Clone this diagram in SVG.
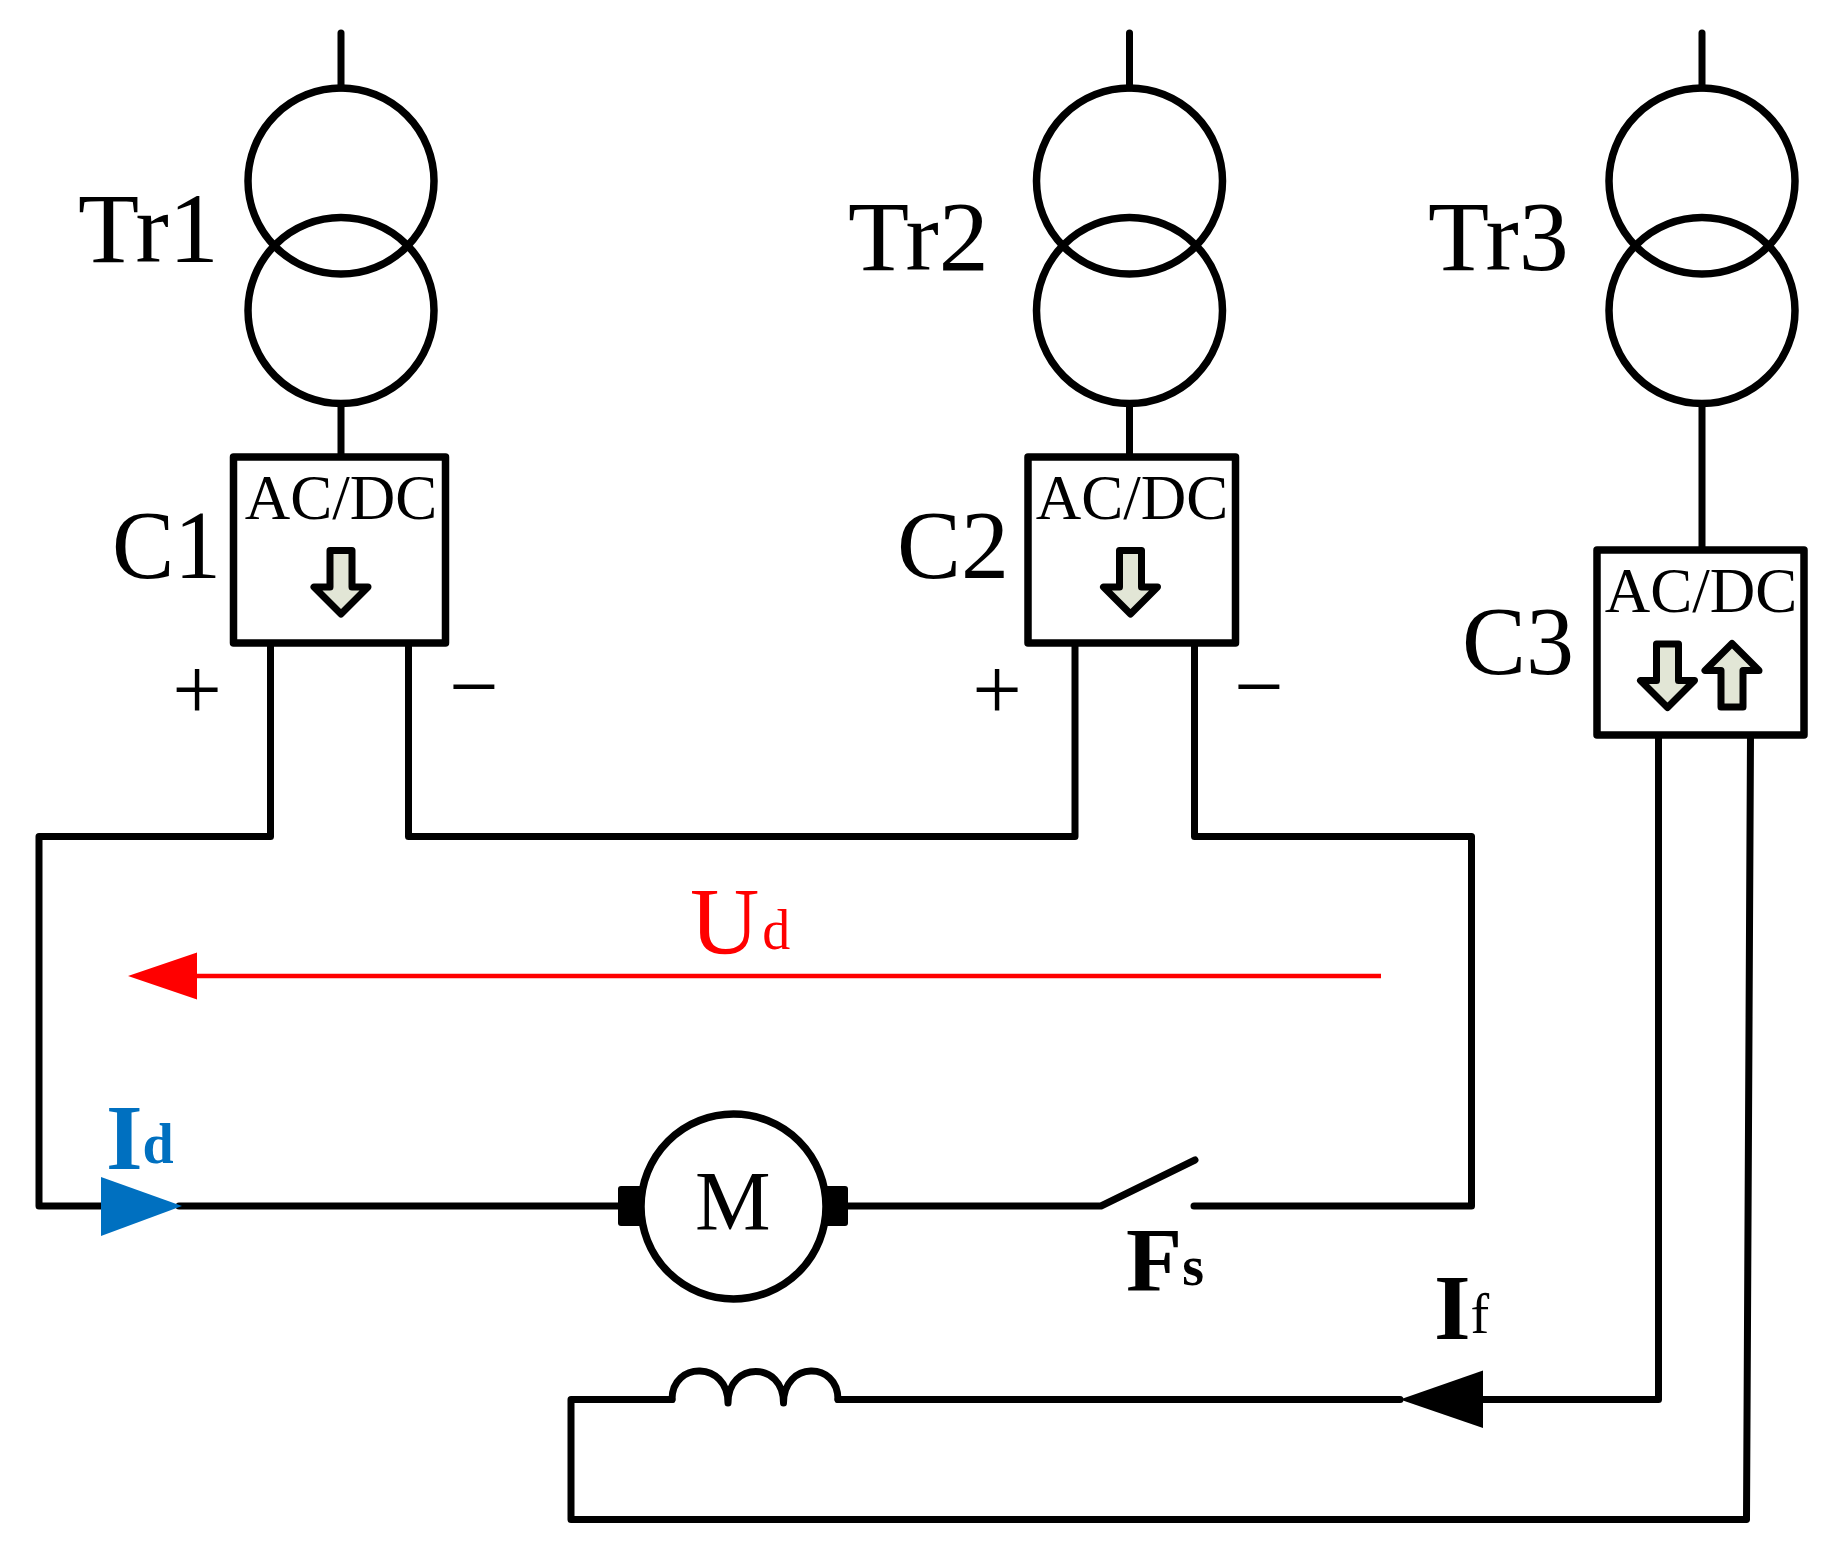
<svg xmlns="http://www.w3.org/2000/svg" width="1833" height="1553" viewBox="0 0 1833 1553">
<defs>
<style>
.w{fill:none;stroke:#000;stroke-width:7;stroke-linecap:round;stroke-linejoin:round}
.c{fill:#fff;stroke:#000;stroke-width:7.500}
.o{fill:none;stroke:#000;stroke-width:7.500}
.b{fill:#fff;stroke:#000;stroke-width:7.500;stroke-linejoin:round}
.a{fill:#E2E6D6;stroke:#000;stroke-width:7;stroke-linejoin:round}
text{font-family:"Liberation Serif","Times New Roman",serif;fill:#000}
.tr{font-size:100px}
.cn{font-size:98px}
.conv{font-size:63px;text-anchor:middle}
.sign{font-size:88px;text-anchor:middle}
.sub{font-size:56px}
</style>
<path id="down" d="M-11 0H11V36.500H27L0 63.500L-27 36.500H-11Z"/>
<g id="tr"><line class="w" x1="0" y1="33" x2="0" y2="88"/><circle class="o" cx="0" cy="181" r="93"/><circle class="o" cx="0" cy="310.500" r="93"/></g>
</defs>
<rect width="1833" height="1553" fill="#fff"/>
<g id="connectors">
<path class="w" d="M341 404V457"/>
<path class="w" d="M1129.500 404V457"/>
<path class="w" d="M1702 404V550"/>
<path class="w" d="M270.500 643V836.500H39V1206H101"/>
<path class="w" d="M408.500 643V836.500H1075V643"/>
<path class="w" d="M1194.500 643V836.500H1471.500V1206H1194"/>
<path class="w" d="M179 1206H618"/>
<path class="w" d="M847 1206H1101L1195 1160"/>
<path class="w" d="M1658.500 735V1399.500H1483"/>
<path class="w" d="M1400 1399.500H838"/>
<path class="w" d="M672 1399.500H571V1519.500H1746.500L1750.500 735"/>
<path id="ud-line" d="M197 976H1381" fill="none" stroke="#FF0000" stroke-width="4.500"/>
<polygon id="ud-head" points="128,976 197,952.500 197,999.500" fill="#FF0000"/>
<polygon id="id-head" points="101,1177 182,1206 101,1236" fill="#0070C0"/>
<polygon id="if-head" points="1400,1399.500 1483,1370.500 1483,1428" fill="#000"/>
</g>
<g id="Tr1"><use href="#tr" x="341"/><text class="tr" x="78" y="262">Tr1</text></g>
<g id="Tr2"><use href="#tr" x="1129.500"/><text class="tr" x="848" y="270">Tr2</text></g>
<g id="Tr3"><use href="#tr" x="1702"/><text class="tr" x="1428" y="270">Tr3</text></g>
<g id="C1">
<rect class="b" x="233.500" y="457" width="212" height="186"/>
<text class="conv" x="341" y="519">AC/DC</text>
<use href="#down" class="a" x="341" y="550.500"/>
<text class="cn" x="112" y="578" textLength="109" lengthAdjust="spacingAndGlyphs">C1</text>
<text class="sign" x="197" y="719">+</text>
<text class="sign" x="474" y="716">−</text>
</g>
<g id="C2">
<rect class="b" x="1028" y="457" width="207.500" height="186"/>
<text class="conv" x="1132" y="519">AC/DC</text>
<use href="#down" class="a" x="1130.500" y="550.500"/>
<text class="cn" x="897" y="578" textLength="112" lengthAdjust="spacingAndGlyphs">C2</text>
<text class="sign" x="997" y="719">+</text>
<text class="sign" x="1259" y="716">−</text>
</g>
<g id="C3">
<rect class="b" x="1597" y="550" width="207" height="185"/>
<text class="conv" x="1701" y="612">AC/DC</text>
<use href="#down" class="a" x="1667.500" y="644"/>
<use href="#down" class="a" transform="translate(1732 707) scale(1 -1)"/>
<text class="cn" x="1462" y="674" textLength="112" lengthAdjust="spacingAndGlyphs">C3</text>
</g>
<g id="motor">
<rect x="618" y="1186" width="26" height="40" rx="3" fill="#000"/>
<rect x="823" y="1186" width="25" height="40" rx="3" fill="#000"/>
<circle class="c" cx="733.500" cy="1206.500" r="92.500"/>
<text x="695" y="1230" font-size="85">M</text>
</g>
<g id="Fs-switch">
<text x="1126" y="1291" font-size="92" font-weight="bold">F<tspan class="sub" dy="-6">s</tspan></text>
</g>
<g id="inductor">
<path class="w" d="M672 1399.500C672 1361 728 1361 728 1403C728 1361 783.500 1361 783.500 1403C783.500 1361 838 1361 838 1399.500"/>
</g>
<g id="Ud"><text x="690" y="954" font-size="96" style="fill:#FF0000">U<tspan class="sub" dx="3" dy="-5" style="fill:#FF0000">d</tspan></text></g>
<g id="Id"><text x="106" y="1169" font-size="94" font-weight="bold" style="fill:#0070C0">I<tspan class="sub" dy="-6.500" style="fill:#0070C0">d</tspan></text></g>
<g id="If"><text x="1434" y="1339" font-size="94" font-weight="bold">I<tspan class="sub" font-weight="normal" dy="-6">f</tspan></text></g>
</svg>
